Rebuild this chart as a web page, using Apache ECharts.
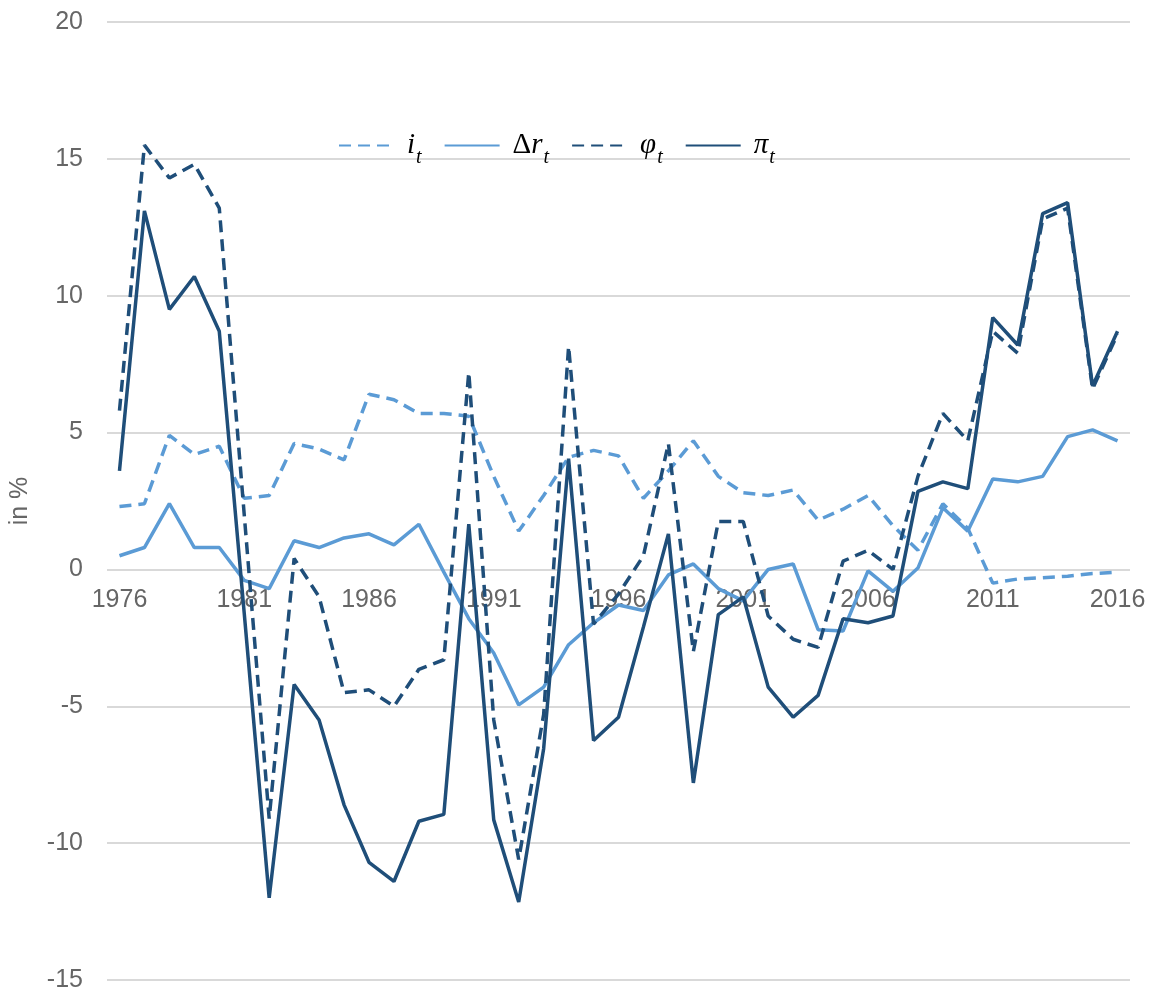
<!DOCTYPE html>
<html>
<head>
<meta charset="utf-8">
<script src="https://cdn.jsdelivr.net/npm/echarts@6/dist/echarts.min.js"></script>
<style>
  html, body { margin: 0; padding: 0; background: #fff; }
  #chart { width: 1156px; height: 995px; }
</style>
</head>
<body>
<div id="chart"></div>
<script>
// years on the x axis
const years = [];
for (let y = 1976; y <= 2016; y++) years.push(String(y));

// i_t
const iRate = [2.3, 2.4, 4.9, 4.2, 4.5, 2.6, 2.7, 4.6, 4.4, 4.0,
  6.4, 6.2, 5.7, 5.7, 5.6, 3.4, 1.4, 2.7, 4.1, 4.35,
  4.15, 2.6, 3.6, 4.7, 3.4, 2.8, 2.7, 2.9, 1.8, 2.2,
  2.7, 1.6, 0.7, 2.4, 1.5, -0.5, -0.35, -0.3, -0.25, -0.15,
  -0.1];

// Δr_t
const deltaR = [0.5, 0.8, 2.4, 0.8, 0.8, -0.4, -0.7, 1.05, 0.8, 1.15,
  1.3, 0.9, 1.65, -0.1, -1.8, -3.05, -4.95, -4.3, -2.75, -1.95,
  -1.3, -1.5, -0.2, 0.2, -0.7, -1.15, 0.0, 0.2, -2.2, -2.25,
  -0.05, -0.8, 0.05, 2.25, 1.4, 3.3, 3.2, 3.4, 4.85, 5.1,
  4.7];

// φ_t
const phi = [5.8, 15.5, 14.3, 14.8, 13.2, 2.0, -9.1, 0.4, -1.0, -4.5,
  -4.4, -5.0, -3.65, -3.3, 7.2, -5.5, -10.6, -5.3, 8.15, -2.0,
  -0.9, 0.5, 4.6, -3.0, 1.75, 1.75, -1.7, -2.55, -2.85, 0.3,
  0.7, 0.0, 3.4, 5.7, 4.7, 8.7, 7.9, 12.8, 13.2, 6.6,
  8.6];

// π_t
const pi = [3.6, 13.1, 9.5, 10.7, 8.7, -1.6, -12.0, -4.2, -5.5, -8.6,
  -10.7, -11.4, -9.2, -8.95, 1.65, -9.15, -12.15, -6.55, 4.05, -6.25,
  -5.4, -2.1, 1.3, -7.8, -1.65, -1.0, -4.3, -5.4, -4.6, -1.8,
  -1.95, -1.7, 2.85, 3.2, 2.95, 9.2, 8.2, 13.0, 13.4, 6.7,
  8.7];

const yTicks = [-15, -10, -5, 0, 5, 10, 15, 20];

const light = "#5B9BD5";
const dark = "#1F4E79";
const gray = "#666666";

const legendLabels = {
  i: "{m|i}{s|t}",
  dr: "{u|Δ}{m|r}{s|t}",
  phi: "{m|φ}{s|t}",
  pi: "{m|π}{s|t}",
};

// grid box
const W = 1156, H = 995;
const gTop = 22, gBottom = 15;
const yMin = yTicks[0], yMax = yTicks[yTicks.length - 1];
// x labels sit under the zero line, so lift the category axis up to it
const plotH = H - gTop - gBottom;
const zeroLift = -plotH * (0 - yMin) / (yMax - yMin);

function makeSeries(name, data, color, dashed) {
  return {
    name: name,
    type: "line",
    data: data,
    symbol: "none",
    smooth: false,
    z: 5,
    lineStyle: {
      color: color,
      width: 3.5,
      type: dashed ? [12, 7] : "solid",
    },
    itemStyle: { color: color },
  };
}

const chart = echarts.init(document.getElementById("chart"));
chart.setOption({
  animation: false,
  backgroundColor: "#fff",
  grid: { left: 107, right: 26, top: gTop, bottom: gBottom, outerBoundsMode: "none", containLabel: false },
  legend: {
    left: 333,
    top: 126,
    itemWidth: 55,
    itemHeight: 14,
    itemGap: 22,
    data: ["i", "dr", "phi", "pi"],
    formatter: (n) => legendLabels[n],
    itemStyle: { opacity: 0 },
    textStyle: {
      padding: [0, 0, 0, 8],
      rich: {
        m: { fontFamily: "Liberation Serif", fontStyle: "italic", fontSize: 29, color: "#000", verticalAlign: "bottom" },
        u: { fontFamily: "Liberation Serif", fontSize: 29, color: "#000", verticalAlign: "bottom" },
        s: { fontFamily: "Liberation Serif", fontStyle: "italic", fontSize: 20, color: "#000", verticalAlign: "bottom", padding: [0, 0, -8, 1] },
      },
    },
  },
  xAxis: {
    type: "category",
    data: years,
    boundaryGap: true,
    position: "bottom",
    offset: zeroLift,
    z: 0,
    axisLine: { show: false, onZero: false },
    axisTick: { show: false },
    axisLabel: {
      interval: 4,
      margin: 18,
      color: gray,
      fontSize: 25,
      fontFamily: "Liberation Sans",
    },
  },
  yAxis: {
    type: "value",
    min: yMin,
    max: yMax,
    interval: 5,
    name: "in %",
    nameLocation: "middle",
    nameGap: 74,
    nameTextStyle: { color: gray, fontSize: 25, fontFamily: "Liberation Sans" },
    axisLine: { show: false },
    axisTick: { show: false },
    axisLabel: { color: gray, fontSize: 25, fontFamily: "Liberation Sans", margin: 24 },
    splitLine: { lineStyle: { color: "#d9d9d9", width: 2 } },
  },
  series: [
    makeSeries("i", iRate, light, true),
    makeSeries("dr", deltaR, light, false),
    makeSeries("phi", phi, dark, true),
    makeSeries("pi", pi, dark, false),
  ],
});
</script>
</body>
</html>
